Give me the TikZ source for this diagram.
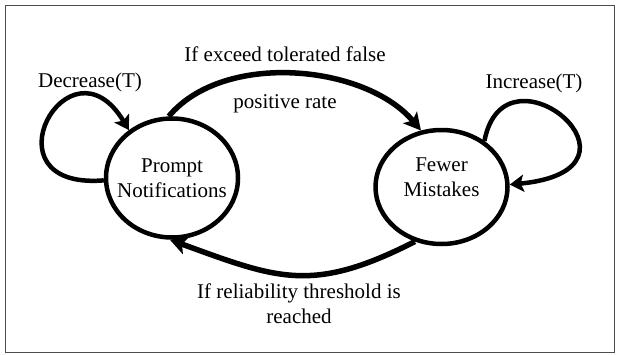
\documentclass[tikz,border=0pt]{standalone}
\usepackage{fontspec}
\setmainfont{Liberation Serif}
\usepackage{tikz}
\usetikzlibrary{positioning,shapes.geometric,arrows.meta}

\begin{document}
\begin{tikzpicture}[x=1pt, y=1pt, font=\fontsize{21}{25}\selectfont,
    state/.style={draw, ellipse, line width=4.5pt, inner sep=-15pt, minimum width=132pt, minimum height=119pt, align=center},
    jump/.style={line width=5.5pt, -{Stealth[length=17pt, width=18pt, inset=4pt]}},
    loop/.style={line width=4.5pt, -{Stealth[length=14pt, width=17pt, inset=3pt]}}]
    \useasboundingbox (0,0) rectangle (617,354);
    \draw[black!70, line width=1pt] (5,2) rectangle (614,348);

    \node[state] (prompt) at (172,176) {Prompt\\Notifications};
    \node[state, minimum height=114pt, text depth=20pt, right=133pt of prompt, yshift=-9pt] (fewer) {Fewer\\Mistakes};

    \draw[jump] (prompt.93) to[out=50, in=130, looseness=0.87] (fewer.110);
    \draw[jump] (fewer.244) to[out=207, in=-20, looseness=1.2] (prompt.268);
    \draw[loop] (prompt.182) .. controls +(-123,-10) and +(-60,100) .. (prompt.132);
    \draw[loop] (fewer.47) .. controls +(20,105) and +(155,15) .. (fewer.2);

    \node (exceed) at (285,300) {If exceed tolerated false};
    \node (rate) at (285,250) {positive rate};
    \node (decrease) at (90,272) {Decrease(T)};
    \node (increase) at (534,271) {Increase(T)};
    \node[align=center] (reached) at (299,50) {If reliability threshold is\\reached};
\end{tikzpicture}
\end{document}
